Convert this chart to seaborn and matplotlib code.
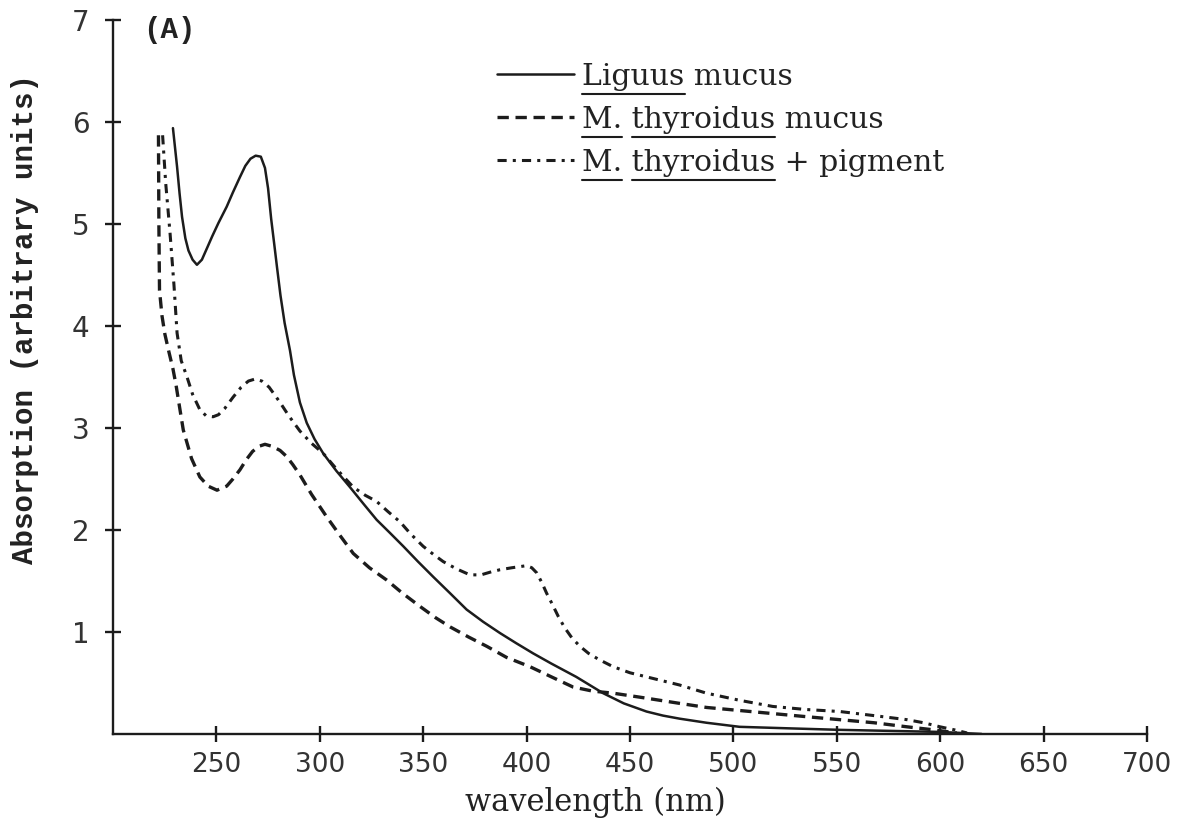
import pandas as pd
import matplotlib.pyplot as plt
import seaborn as sns
from matplotlib.lines import Line2D

# data (wavelength in nm, absorption in arbitrary units)
liguus_nm = [229, 230, 231, 232.2, 233.4, 235, 236.5, 238.5, 240.6, 243, 245.4, 248, 251, 255,
             258, 261.4, 264, 266.5, 269, 271.5, 273.5, 275, 276.5, 278, 279.3, 281, 283,
             285.6, 287.5, 290.4, 293.7, 297.5, 301.7, 308, 314.6, 321, 327.5, 334, 340.4,
             347.5, 354.9, 363, 371, 379, 387.1, 395, 403.2, 412, 424, 437, 447, 458, 466,
             474, 487, 503, 527, 552, 576, 600, 620]
liguus_abs = [5.94, 5.75, 5.56, 5.3, 5.07, 4.86, 4.74, 4.65, 4.60, 4.65, 4.76, 4.88, 5.01,
              5.17, 5.31, 5.46, 5.57, 5.64, 5.67, 5.66, 5.55, 5.35, 5.05, 4.80, 4.58, 4.30,
              4.03, 3.76, 3.52, 3.25, 3.05, 2.89, 2.75, 2.58, 2.42, 2.26, 2.10, 1.97, 1.84,
              1.69, 1.54, 1.38, 1.22, 1.10, 0.99, 0.89, 0.79, 0.69, 0.56, 0.40, 0.30, 0.22,
              0.18, 0.15, 0.11, 0.07, 0.055, 0.04, 0.03, 0.02, 0.0]

thyr_nm = [222, 222.2, 222.5, 223.7, 225.1, 227, 229, 230.5, 232.4, 234, 238, 242, 246,
           250.3, 255, 258, 261.4, 264.5, 267.5, 270.5, 273.5, 277, 280.8, 284, 287, 290.4,
           296, 303.3, 310, 316.2, 324, 332.3, 340, 348.5, 356, 363, 372, 380.7, 390.4,
           401.6, 412, 422.5, 432, 441.8, 455, 474, 487, 503, 519, 535, 551.5, 568, 584, 597,
           608]
thyr_abs = [5.87, 5.0, 4.35, 4.1, 3.92, 3.75, 3.58, 3.42, 3.18, 2.98, 2.7, 2.52, 2.43, 2.39,
            2.43, 2.5, 2.59, 2.69, 2.77, 2.82, 2.84, 2.82, 2.78, 2.72, 2.64, 2.54, 2.35, 2.13,
            1.94, 1.77, 1.63, 1.51, 1.38, 1.25, 1.14, 1.05, 0.95, 0.86, 0.75, 0.66, 0.56,
            0.46, 0.42, 0.40, 0.36, 0.30, 0.26, 0.23, 0.20, 0.17, 0.14, 0.11, 0.07, 0.04,
            0.01]

pigment_nm = [224, 225.5, 227.6, 229.5, 231, 233, 235.8, 238.5, 242, 245, 248.4, 251, 254,
              258, 262, 265.5, 268.7, 272, 275.5, 278, 280.8, 285, 290.4, 296, 301.7, 308,
              316.2, 322, 327.5, 333, 338.8, 344, 350, 355, 359.7, 366, 372.6, 378, 383,
              387.1, 393, 400, 402.5, 404.9, 407.5, 409.7, 412.5, 415.4, 418.5, 422, 425.8,
              430, 435, 441.8, 450, 458, 466, 474, 487, 503, 519, 535, 551.5, 568, 584, 592,
              600, 607, 613]
pigment_abs = [5.87, 5.4, 4.91, 4.4, 3.93, 3.66, 3.5, 3.33, 3.18, 3.12, 3.11, 3.13, 3.19,
               3.3, 3.4, 3.46, 3.48, 3.46, 3.40, 3.33, 3.25, 3.12, 2.97, 2.85, 2.75, 2.6,
               2.42, 2.34, 2.28, 2.18, 2.08, 1.96, 1.84, 1.76, 1.69, 1.62, 1.56, 1.56, 1.59,
               1.61, 1.63, 1.65, 1.63, 1.58, 1.48, 1.38, 1.27, 1.15, 1.04, 0.94, 0.86, 0.79,
               0.73, 0.66, 0.60, 0.56, 0.52, 0.48, 0.40, 0.33, 0.27, 0.24, 0.22, 0.18, 0.14,
               0.11, 0.07, 0.04, 0.01]

labels = ['Liguus mucus', 'M. thyroidus mucus', 'M. thyroidus + pigment']
x_ticks = [250, 300, 350, 400, 450, 500, 550, 600, 650, 700]
y_ticks = [1, 2, 3, 4, 5, 6, 7]

df = pd.concat([
    pd.DataFrame({'nm': liguus_nm, 'abs': liguus_abs, 'sample': labels[0]}),
    pd.DataFrame({'nm': thyr_nm, 'abs': thyr_abs, 'sample': labels[1]}),
    pd.DataFrame({'nm': pigment_nm, 'abs': pigment_abs, 'sample': labels[2]}),
])

sns.set_style('white')
plt.rcParams['font.family'] = ['DejaVu Sans']

ink = '#1c1c1c'
styles = {
    labels[0]: dict(linestyle='-', lw=1.8),
    labels[1]: dict(linestyle=(0, (3.4, 2.0)), lw=2.4),
    labels[2]: dict(linestyle=(0, (3.0, 2.0, 1.0, 2.0)), lw=2.2),
}

fig = plt.figure(figsize=(11.83, 8.27), dpi=100)
ax = fig.add_axes([0.0955, 0.1125, 0.874, 0.8633])

for name in labels:
    sub = df[df['sample'] == name]
    sns.lineplot(data=sub, x='nm', y='abs', ax=ax, color=ink, estimator=None,
                 sort=False, label=name, **styles[name])

ax.set_xlim(200, 700)
ax.set_ylim(0, 7)
ax.set_xticks(x_ticks)
ax.set_yticks(y_ticks)
sns.despine(ax=ax)
for side in ['left', 'bottom']:
    ax.spines[side].set_linewidth(1.7)
    ax.spines[side].set_color(ink)
ax.tick_params(axis='both', bottom=True, left=True, direction='inout', length=12,
               width=1.7, color=ink, labelcolor='#333333')
ax.tick_params(axis='x', pad=7, labelsize=19)
ax.tick_params(axis='y', pad=11, labelsize=20)

ax.set_xlabel('wavelength (nm)', fontsize=22, family='DejaVu Serif', color='#222222')
ax.set_ylabel('Absorption (arbitrary units)', fontsize=21, family='Liberation Mono',
              fontweight='bold', color='#222222')
ax.xaxis.set_label_coords(0.467, -0.074)
ax.yaxis.set_label_coords(-0.072, 0.581)

ax.text(0.029, 0.986, '(A)', transform=ax.transAxes, fontsize=21,
        family='Liberation Mono', fontweight='bold', va='center', color='#222222')

leg = ax.legend(loc='upper left', bbox_to_anchor=(0.371, 0.94), frameon=False,
                prop={'family': 'DejaVu Serif', 'size': 21.5}, handlelength=2.6,
                handletextpad=0.27, labelspacing=0.5, borderpad=0, borderaxespad=0)
for t in leg.get_texts():
    t.set_color('#222222')

# underline the species names in the legend, as in the original figure
fig.canvas.draw()
renderer = fig.canvas.get_renderer()
W, H = fig.bbox.width, fig.bbox.height


def underline(text, word):
    s = text.get_text()
    prop = text.get_fontproperties()
    end = s.index(word) + len(word)
    w_end = renderer.get_text_width_height_descent(s[:end], prop, ismath=False)[0]
    w_word = renderer.get_text_width_height_descent(word, prop, ismath=False)[0]
    d = max(renderer.get_text_width_height_descent(s, prop, ismath=False)[2],
            renderer.get_text_width_height_descent('lp', prop, ismath=False)[2])
    bb = text.get_window_extent(renderer)
    y = bb.y0 + d - 9
    x1 = bb.x0 + w_end
    fig.add_artist(Line2D([(x1 - w_word) / W, x1 / W], [y / H, y / H],
                          transform=fig.transFigure, color=ink, lw=1.5))


texts = leg.get_texts()
underline(texts[0], 'Liguus')
underline(texts[1], 'M.')
underline(texts[1], 'thyroidus')
underline(texts[2], 'M.')
underline(texts[2], 'thyroidus')

fig.savefig('out.png', dpi=100, facecolor='white')
